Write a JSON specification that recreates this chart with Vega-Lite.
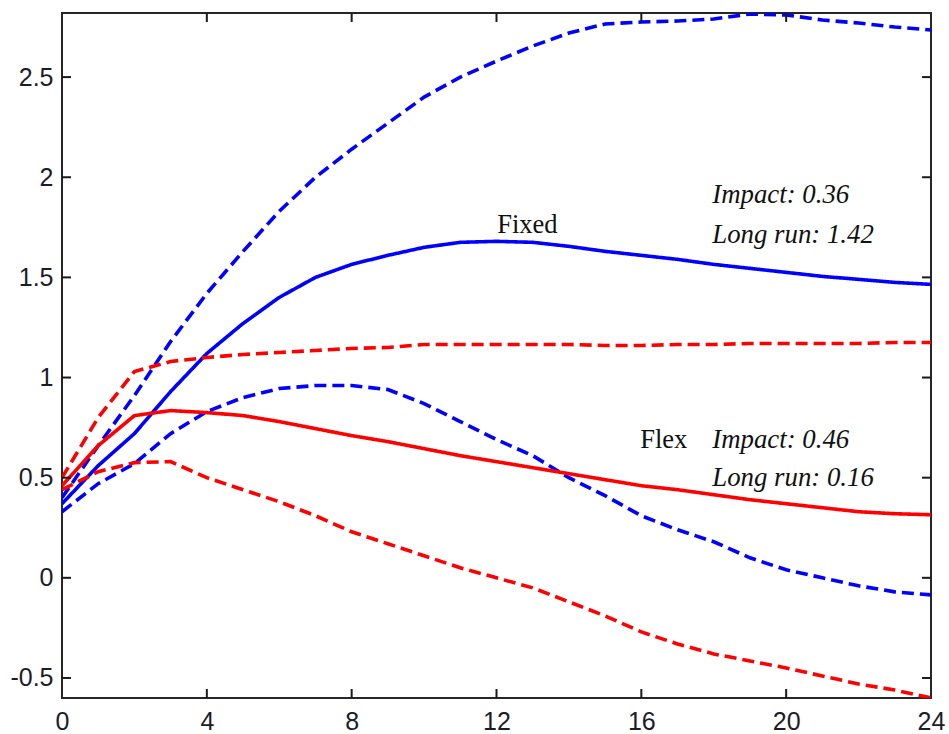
{
  "$schema": "https://vega.github.io/schema/vega-lite/v6.json",
  "width": 869,
  "height": 685,
  "autosize": {"type": "none"},
  "padding": {"left": 62, "top": 13, "right": 18, "bottom": 36},
  "background": "white",
  "config": {
    "view": {"stroke": "#262626", "strokeWidth": 2},
    "axis": {
      "domain": false,
      "grid": false,
      "ticks": false,
      "labelFont": "Liberation Sans",
      "labelFontSize": 25,
      "labelColor": "#1c1c28"
    }
  },
  "datasets": {
    "irf": [
      {"t": 0, "Fixed": 0.37, "FixedUpper": 0.40, "FixedLower": 0.33, "Flex": 0.46, "FlexUpper": 0.50, "FlexLower": 0.44},
      {"t": 1, "Fixed": 0.56, "FixedUpper": 0.66, "FixedLower": 0.47, "Flex": 0.66, "FlexUpper": 0.80, "FlexLower": 0.53},
      {"t": 2, "Fixed": 0.72, "FixedUpper": 0.91, "FixedLower": 0.57, "Flex": 0.81, "FlexUpper": 1.03, "FlexLower": 0.575},
      {"t": 3, "Fixed": 0.93, "FixedUpper": 1.18, "FixedLower": 0.72, "Flex": 0.835, "FlexUpper": 1.08, "FlexLower": 0.58},
      {"t": 4, "Fixed": 1.12, "FixedUpper": 1.42, "FixedLower": 0.83, "Flex": 0.825, "FlexUpper": 1.10, "FlexLower": 0.50},
      {"t": 5, "Fixed": 1.27, "FixedUpper": 1.63, "FixedLower": 0.90, "Flex": 0.81, "FlexUpper": 1.115, "FlexLower": 0.44},
      {"t": 6, "Fixed": 1.40, "FixedUpper": 1.83, "FixedLower": 0.945, "Flex": 0.78, "FlexUpper": 1.125, "FlexLower": 0.38},
      {"t": 7, "Fixed": 1.50, "FixedUpper": 2.00, "FixedLower": 0.96, "Flex": 0.745, "FlexUpper": 1.135, "FlexLower": 0.31},
      {"t": 8, "Fixed": 1.565, "FixedUpper": 2.14, "FixedLower": 0.96, "Flex": 0.71, "FlexUpper": 1.145, "FlexLower": 0.23},
      {"t": 9, "Fixed": 1.61, "FixedUpper": 2.27, "FixedLower": 0.94, "Flex": 0.68, "FlexUpper": 1.15, "FlexLower": 0.17},
      {"t": 10, "Fixed": 1.65, "FixedUpper": 2.40, "FixedLower": 0.87, "Flex": 0.645, "FlexUpper": 1.165, "FlexLower": 0.11},
      {"t": 11, "Fixed": 1.675, "FixedUpper": 2.50, "FixedLower": 0.78, "Flex": 0.61, "FlexUpper": 1.165, "FlexLower": 0.05},
      {"t": 12, "Fixed": 1.68, "FixedUpper": 2.58, "FixedLower": 0.69, "Flex": 0.58, "FlexUpper": 1.165, "FlexLower": 0.0},
      {"t": 13, "Fixed": 1.675, "FixedUpper": 2.655, "FixedLower": 0.61, "Flex": 0.55, "FlexUpper": 1.165, "FlexLower": -0.05},
      {"t": 14, "Fixed": 1.655, "FixedUpper": 2.72, "FixedLower": 0.50, "Flex": 0.52, "FlexUpper": 1.165, "FlexLower": -0.12},
      {"t": 15, "Fixed": 1.63, "FixedUpper": 2.765, "FixedLower": 0.41, "Flex": 0.49, "FlexUpper": 1.16, "FlexLower": -0.19},
      {"t": 16, "Fixed": 1.61, "FixedUpper": 2.775, "FixedLower": 0.31, "Flex": 0.46, "FlexUpper": 1.16, "FlexLower": -0.27},
      {"t": 17, "Fixed": 1.59, "FixedUpper": 2.78, "FixedLower": 0.24, "Flex": 0.44, "FlexUpper": 1.165, "FlexLower": -0.33},
      {"t": 18, "Fixed": 1.565, "FixedUpper": 2.79, "FixedLower": 0.18, "Flex": 0.415, "FlexUpper": 1.165, "FlexLower": -0.38},
      {"t": 19, "Fixed": 1.545, "FixedUpper": 2.815, "FixedLower": 0.10, "Flex": 0.39, "FlexUpper": 1.17, "FlexLower": -0.415},
      {"t": 20, "Fixed": 1.525, "FixedUpper": 2.81, "FixedLower": 0.04, "Flex": 0.37, "FlexUpper": 1.17, "FlexLower": -0.45},
      {"t": 21, "Fixed": 1.505, "FixedUpper": 2.785, "FixedLower": 0.0, "Flex": 0.35, "FlexUpper": 1.17, "FlexLower": -0.49},
      {"t": 22, "Fixed": 1.49, "FixedUpper": 2.77, "FixedLower": -0.04, "Flex": 0.33, "FlexUpper": 1.17, "FlexLower": -0.53},
      {"t": 23, "Fixed": 1.475, "FixedUpper": 2.75, "FixedLower": -0.07, "Flex": 0.32, "FlexUpper": 1.175, "FlexLower": -0.56},
      {"t": 24, "Fixed": 1.465, "FixedUpper": 2.735, "FixedLower": -0.085, "Flex": 0.315, "FlexUpper": 1.175, "FlexLower": -0.6}
    ]
  },
  "layer": [
    {
      "data": {"name": "irf"},
      "transform": [
        {"fold": ["FixedUpper", "FixedLower", "Fixed", "FlexUpper", "FlexLower", "Flex"], "as": ["series", "value"]}
      ],
      "mark": {"type": "line", "strokeWidth": 3.6, "clip": true, "strokeCap": "butt"},
      "encoding": {
        "x": {
          "field": "t", "type": "quantitative", "title": null,
          "scale": {"domain": [0, 24], "nice": false, "zero": false},
          "axis": {"orient": "bottom", "values": [0, 4, 8, 12, 16, 20, 24], "labelPadding": 11, "labelFlush": false}
        },
        "y": {
          "field": "value", "type": "quantitative", "title": null,
          "scale": {"domain": [-0.6, 2.82], "nice": false, "zero": false},
          "axis": {
            "orient": "left",
            "values": [-0.5, 0, 0.5, 1, 1.5, 2, 2.5],
            "labelPadding": 9,
            "labelExpr": "datum.value < 0 ? '-' + format(-datum.value, '~g') : format(datum.value, '~g')"
          }
        },
        "color": {
          "field": "series", "type": "nominal",
          "scale": {
            "domain": ["FixedUpper", "FixedLower", "Fixed", "FlexUpper", "FlexLower", "Flex"],
            "range": ["#0000ff", "#0000ff", "#0000ff", "#ff0000", "#ff0000", "#ff0000"]
          },
          "legend": null
        },
        "strokeDash": {
          "field": "series", "type": "nominal",
          "scale": {
            "domain": ["FixedUpper", "FixedLower", "Fixed", "FlexUpper", "FlexLower", "Flex"],
            "range": [[12, 6], [12, 6], [1, 0], [12, 6], [12, 6], [1, 0]]
          },
          "legend": null
        }
      }
    },
    {
      "data": {"values": [
        {"t": 0, "value": -0.5}, {"t": 0, "value": 0}, {"t": 0, "value": 0.5}, {"t": 0, "value": 1},
        {"t": 0, "value": 1.5}, {"t": 0, "value": 2}, {"t": 0, "value": 2.5},
        {"t": 24, "value": -0.5}, {"t": 24, "value": 0}, {"t": 24, "value": 0.5}, {"t": 24, "value": 1},
        {"t": 24, "value": 1.5}, {"t": 24, "value": 2}, {"t": 24, "value": 2.5}
      ]},
      "mark": {"type": "tick", "orient": "horizontal", "size": 18, "thickness": 2, "color": "#1a1a1a", "clip": true, "opacity": 1},
      "encoding": {
        "x": {"field": "t", "type": "quantitative", "scale": {"domain": [0, 24], "nice": false, "zero": false}},
        "y": {"field": "value", "type": "quantitative", "scale": {"domain": [-0.6, 2.82], "nice": false, "zero": false}}
      }
    },
    {
      "data": {"values": [
        {"t": 4, "value": -0.6}, {"t": 8, "value": -0.6}, {"t": 12, "value": -0.6}, {"t": 16, "value": -0.6}, {"t": 20, "value": -0.6},
        {"t": 4, "value": 2.82}, {"t": 8, "value": 2.82}, {"t": 12, "value": 2.82}, {"t": 16, "value": 2.82}, {"t": 20, "value": 2.82}
      ]},
      "mark": {"type": "tick", "orient": "vertical", "size": 18, "thickness": 2, "color": "#1a1a1a", "clip": true, "opacity": 1},
      "encoding": {
        "x": {"field": "t", "type": "quantitative", "scale": {"domain": [0, 24], "nice": false, "zero": false}},
        "y": {"field": "value", "type": "quantitative", "scale": {"domain": [-0.6, 2.82], "nice": false, "zero": false}}
      }
    },
    {
      "data": {"values": [
        {"t": 12.02, "value": 1.72, "label": "Fixed"},
        {"t": 15.97, "value": 0.65, "label": "Flex"}
      ]},
      "mark": {"type": "text", "font": "Liberation Serif", "fontSize": 26.5, "align": "left", "baseline": "alphabetic", "color": "#111111"},
      "encoding": {
        "x": {"field": "t", "type": "quantitative", "scale": {"domain": [0, 24], "nice": false, "zero": false}},
        "y": {"field": "value", "type": "quantitative", "scale": {"domain": [-0.6, 2.82], "nice": false, "zero": false}},
        "text": {"field": "label"}
      }
    },
    {
      "data": {"values": [
        {"t": 17.96, "value": 1.87, "label": "Impact: 0.36"},
        {"t": 17.96, "value": 1.67, "label": "Long run: 1.42"},
        {"t": 17.96, "value": 0.65, "label": "Impact: 0.46"},
        {"t": 17.96, "value": 0.46, "label": "Long run: 0.16"}
      ]},
      "mark": {"type": "text", "font": "Liberation Serif", "fontStyle": "italic", "fontSize": 26.8, "align": "left", "baseline": "alphabetic", "color": "#111111"},
      "encoding": {
        "x": {"field": "t", "type": "quantitative", "scale": {"domain": [0, 24], "nice": false, "zero": false}},
        "y": {"field": "value", "type": "quantitative", "scale": {"domain": [-0.6, 2.82], "nice": false, "zero": false}},
        "text": {"field": "label"}
      }
    }
  ]
}
